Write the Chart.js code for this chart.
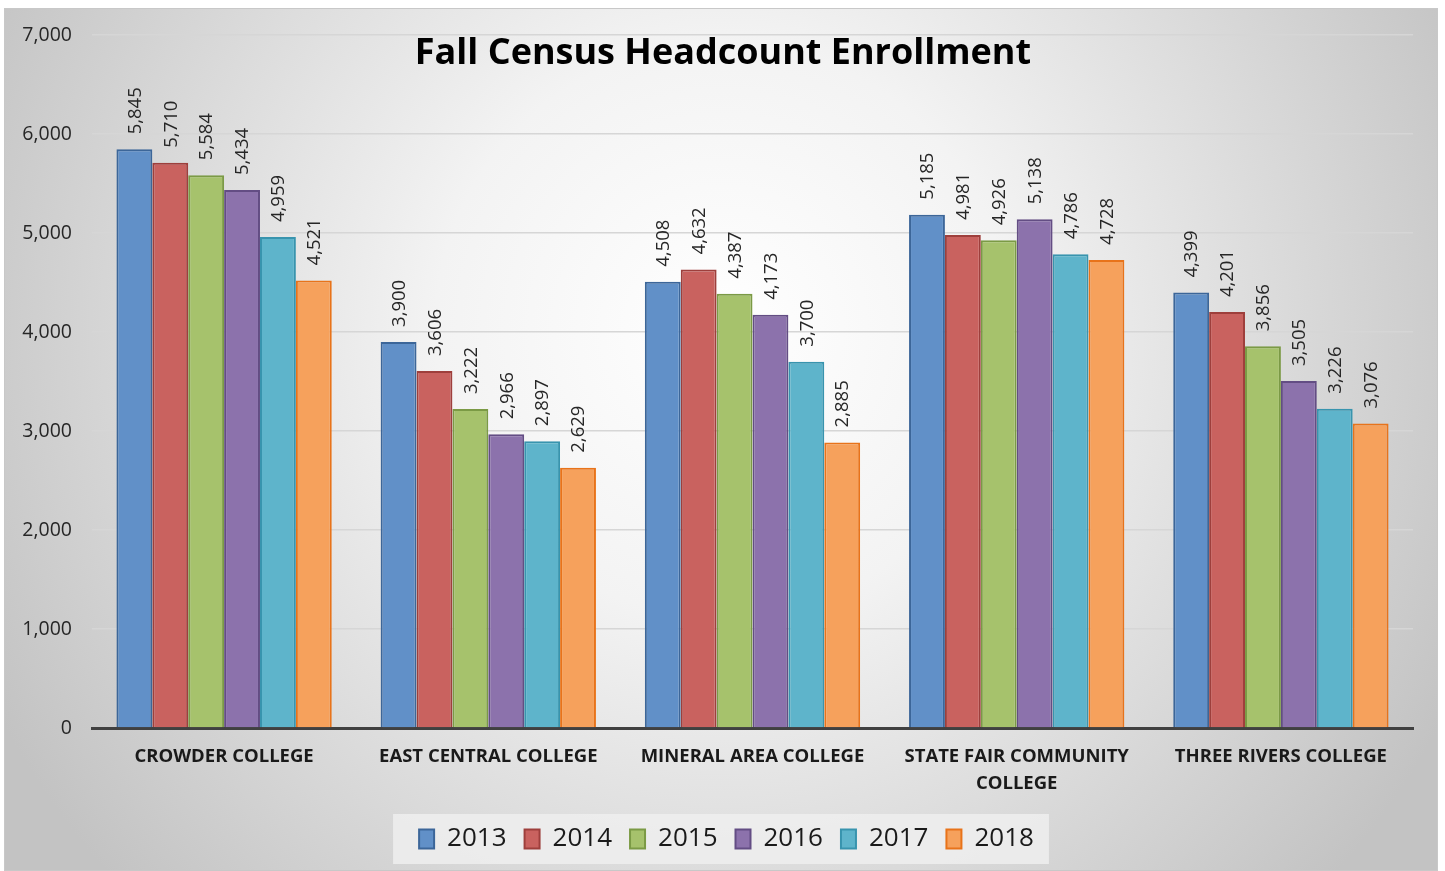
<!DOCTYPE html>
<html>
<head>
<meta charset="utf-8">
<script src="https://cdn.jsdelivr.net/npm/chart.js@4.4.1/dist/chart.umd.min.js"></script>
<style>
  html, body { margin: 0; padding: 0; background: #ffffff; }
  #wrap { position: relative; width: 1445px; height: 871px; }
</style>
</head>
<body>
<div id="wrap"><canvas id="c" width="1445" height="871"></canvas></div>
<script>
const chartTitle = "Fall Census Headcount Enrollment";
const categories = [
  "CROWDER COLLEGE",
  "EAST CENTRAL COLLEGE",
  "MINERAL AREA COLLEGE",
  ["STATE FAIR COMMUNITY", "COLLEGE"],
  "THREE RIVERS COLLEGE"
];
const seriesNames = ["2013", "2014", "2015", "2016", "2017", "2018"];
const values2013 = [5845, 3900, 4508, 5185, 4399];
const values2014 = [5710, 3606, 4632, 4981, 4201];
const values2015 = [5584, 3222, 4387, 4926, 3856];
const values2016 = [5434, 2966, 4173, 5138, 3505];
const values2017 = [4959, 2897, 3700, 4786, 3226];
const values2018 = [4521, 2629, 2885, 4728, 3076];
const yTicksMin = 0, yTicksMax = 7000, yTicksStep = 1000;

const seriesValues = [values2013, values2014, values2015, values2016, values2017, values2018];
const fills = ["#6190C8", "#C9625F", "#A6C26C", "#8C72AC", "#5EB4CB", "#F6A15C"];
const borders = ["#3C6699", "#9E3F3C", "#7B9A45", "#634D84", "#3894AE", "#E8731A"];

const FONT = "'Open Sans', 'Liberation Sans', sans-serif";
const LEGEND_SHIFT = 20;

const bgPlugin = {
  id: 'bg',
  afterLayout(chart) {
    const lg = chart.legend;
    if (lg) {
      lg.left += LEGEND_SHIFT;
      lg.right += LEGEND_SHIFT;
    }
  },
  beforeDraw(chart) {
    const ctx = chart.ctx;
    const W = chart.width, H = chart.height;
    ctx.save();
    ctx.fillStyle = '#ffffff';
    ctx.fillRect(0, 0, W, H);
    const g = ctx.createRadialGradient(722, 330, 0, 722, 330, 820);
    g.addColorStop(0, '#ffffff');
    g.addColorStop(0.35, '#f3f3f3');
    g.addColorStop(1, '#c3c3c3');
    ctx.fillStyle = g;
    ctx.fillRect(4, 8, 1434, 863);
    ctx.strokeStyle = '#c8c8c8';
    ctx.lineWidth = 1;
    ctx.strokeRect(4.5, 8.5, 1433, 862);
    // legend background box
    const lg = chart.legend;
    if (lg && lg.legendHitBoxes && lg.legendHitBoxes.length) {
      const hb = lg.legendHitBoxes;
      let l = Infinity, r = -Infinity, t = Infinity, b = -Infinity;
      hb.forEach(h => { l = Math.min(l, h.left); r = Math.max(r, h.left + h.width); t = Math.min(t, h.top); b = Math.max(b, h.top + h.height); });
      const cy = (t + b) / 2;
      ctx.fillStyle = 'rgba(238,238,238,0.85)';
      ctx.fillRect(l - 26, cy - 25, (r - l) + 41, 50);
    }
    ctx.restore();
  }
};

const labelPlugin = {
  id: 'valLabels',
  afterDatasetsDraw(chart) {
    const ctx = chart.ctx;
    ctx.save();
    ctx.font = "18.5px " + FONT;
    ctx.fillStyle = '#262626';
    ctx.textAlign = 'left';
    ctx.textBaseline = 'middle';
    chart.data.datasets.forEach((ds, di) => {
      const meta = chart.getDatasetMeta(di);
      meta.data.forEach((el, i) => {
        const v = ds.data[i];
        ctx.save();
        ctx.translate(el.x + 1, el.y - 15);
        ctx.rotate(-Math.PI / 2);
        ctx.fillText(v.toLocaleString('en-US'), 0, 0);
        ctx.restore();
      });
    });
    ctx.restore();
  },
  afterDraw(chart) {
    const ctx = chart.ctx;
    ctx.save();
    ctx.font = "bold 36px " + FONT;
    ctx.fillStyle = '#000000';
    ctx.textAlign = 'center';
    ctx.textBaseline = 'middle';
    ctx.fillText(chartTitle, 723, 54);
    ctx.restore();
  }
};

new Chart(document.getElementById('c'), {
  type: 'bar',
  data: {
    labels: categories,
    datasets: seriesNames.map((n, i) => ({
      label: n,
      data: seriesValues[i],
      backgroundColor: fills[i],
      borderColor: borders[i],
      borderWidth: 2,
      borderSkipped: 'bottom',
      categoryPercentage: 0.815,
      barPercentage: 1.0
    }))
  },
  options: {
    responsive: false,
    animation: false,
    devicePixelRatio: 1,
    layout: { padding: { top: 35, right: 32, left: 0, bottom: 9 } },
    plugins: {
      title: { display: false },
      tooltip: { enabled: false },
      legend: {
        position: 'bottom',
        labels: {
          font: { family: FONT, size: 26 },
          color: '#1a1a1a',
          boxWidth: 15,
          boxHeight: 19,
          padding: 18,
          useBorderRadius: false
        }
      }
    },
    scales: {
      x: {
        grid: { display: false, drawTicks: false },
        border: { display: true, color: '#404040', width: 3 },
        ticks: {
          font: { family: FONT, size: 18.5, weight: 'bold', lineHeight: 1.45 },
          color: '#1a1a1a',
          padding: 15,
          maxRotation: 0,
          autoSkip: false
        },
        afterFit(scale) { scale.height = 80; }
      },
      y: {
        min: yTicksMin,
        max: yTicksMax,
        grid: { color: '#d6d6d6', lineWidth: 1.5, drawTicks: false },
        border: { display: false },
        ticks: {
          stepSize: yTicksStep,
          font: { family: FONT, size: 19.5 },
          color: '#262626',
          padding: 20,
          callback: v => v.toLocaleString('en-US')
        },
        afterFit(scale) { scale.width = 92; }
      }
    }
  },
  plugins: [bgPlugin, labelPlugin]
});
</script>
</body>
</html>
